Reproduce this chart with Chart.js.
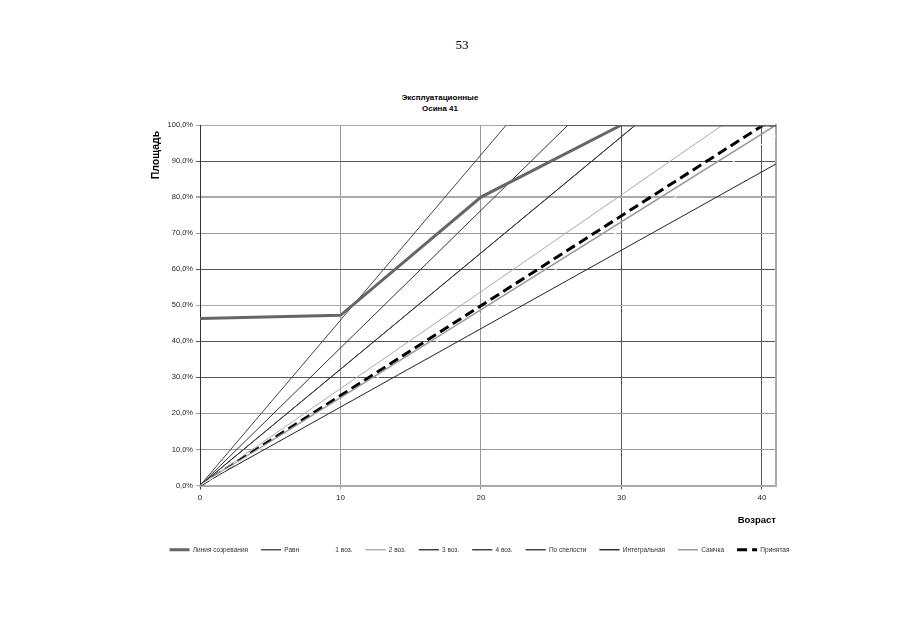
<!DOCTYPE html>
<html>
<head>
<meta charset="utf-8">
<script src="https://cdn.jsdelivr.net/npm/chart.js@4"></script>
<style>
  body { margin: 0; background: #fff; }
  #wrap { position: relative; width: 905px; height: 640px; }
  #page { position: absolute; left: 12px; top: 37px; width: 900px; text-align: center;
          font: 13px "Liberation Serif", serif; color: #000; }
  #title { position: absolute; left: 340px; top: 92px; width: 200px; text-align: center;
           font: bold 8px "Liberation Sans", Arial, sans-serif; line-height: 11px; color: #000; }
  canvas { position: absolute; left: 0; top: 0; }
</style>
</head>
<body>
<div id="wrap">
  <div id="page">53</div>
  <div id="title">Эксплуатационные<br>Осина 41</div>
  <canvas id="myChart" width="905" height="640"></canvas>
</div>
<script>
// ages (years) and area share (%)
var lastAges = [0, 10, 20, 30, 41];
var lastShare = [46.3, 47.2, 80.0, 100, 100];

var rvanAges = [0, 21.8, 41];
var rvanShare = [0, 100, 100];

var age1Ages = [0, 41];
var age1Share = [0, 97];

var age2Ages = [0, 37.2, 41];
var age2Share = [0, 100, 100];

var age3Ages = [0, 26.2, 41];
var age3Share = [0, 100, 100];

var age4Ages = [0, 31.0, 41];
var age4Share = [0, 100, 100];

var ripeAges = [0, 31.0, 41];
var ripeShare = [0, 100, 100];

var integralAges = [0, 41];
var integralShare = [0, 89.2];

var sampleAges = [0, 41];
var sampleShare = [0, 100];

var acceptedAges = [0, 40.1, 41];
var acceptedShare = [0, 100, 100];

function pts(xs, ys) {
    return xs.map(function (x, i) { return { x: x, y: ys[i] }; });
}

function line(label, xs, ys, color, width, dash) {
    return {
        label: label,
        data: pts(xs, ys),
        borderColor: color,
        backgroundColor: color,
        borderWidth: width,
        borderDash: dash || [],
        pointRadius: 0,
        tension: 0
    };
}

// grid colours vary like in the scan
var yGrid = { 0: '#aaaaaa', 10: '#999999', 20: '#999999', 30: '#555555', 40: '#555555', 50: '#aaaaaa',
              60: '#555555', 70: '#999999', 80: '#aaaaaa', 90: '#555555', 100: '#aaaaaa' };
var xGrid = { 0: '#333333', 10: '#999999', 20: '#999999', 30: '#555555', 40: '#555555' };

var ctx = document.getElementById('myChart').getContext('2d');

var myChart = new Chart(ctx, {
    type: 'line',
    data: {
        datasets: [
            line('Линия созревания', lastAges, lastShare, '#666666', 3),
            line('Равн', rvanAges, rvanShare, '#444444', 1),
            line('1 воз.', age1Ages, age1Share, '#ffffff', 1),
            line('2 воз.', age2Ages, age2Share, '#aaaaaa', 1),
            line('3 воз.', age3Ages, age3Share, '#333333', 1),
            line('4 воз.', age4Ages, age4Share, '#333333', 1),
            line('По спелости', ripeAges, ripeShare, '#333333', 1),
            line('Интегральная', integralAges, integralShare, '#222222', 1),
            line('Самчка', sampleAges, sampleShare, '#999999', 1.5),
            line('Принятая', acceptedAges, acceptedShare, '#000000', 3, [10, 5])
        ]
    },
    options: {
        responsive: false,
        animation: false,
        devicePixelRatio: 1,
        layout: { padding: { left: 150, right: 96, top: 125, bottom: 77 } },
        scales: {
            x: {
                type: 'linear',
                min: 0,
                max: 41,
                ticks: {
                    stepSize: 10,
                    includeBounds: false,
                    padding: 3,
                    autoSkip: false,
                    maxRotation: 0,
                    color: '#222',
                    font: { family: 'Liberation Sans', size: 8 }
                },
                grid: {
                    color: function (c) { return xGrid[c.tick.value] || '#999999'; },
                    tickLength: 4
                },
                border: { color: '#aaaaaa', width: 2 },
                title: {
                    display: true,
                    text: 'Возраст',
                    align: 'end',
                    color: '#000',
                    font: { family: 'Liberation Sans', size: 9.5, weight: 'bold' },
                    padding: { top: 10, bottom: 7 }
                }
            },
            y: {
                min: 0,
                max: 100,
                ticks: {
                    stepSize: 10,
                    padding: 3,
                    color: '#222',
                    font: { family: 'Liberation Sans', size: 7.5 },
                    callback: function (v) { return v.toFixed(1).replace('.', ',') + '%'; }
                },
                grid: {
                    color: function (c) { return yGrid[c.tick.value] || '#999999'; },
                    lineWidth: function (c) { return c.tick.value === 80 ? 2 : 1; },
                    tickLength: 4
                },
                border: { color: '#333333', width: 1 },
                title: {
                    display: true,
                    text: 'Площадь  ',
                    align: 'end',
                    color: '#000',
                    font: { family: 'Liberation Sans', size: 10.5, weight: 'bold' },
                    padding: { top: 0, bottom: 2 }
                }
            },
            // empty right scale: draws the light right border and keeps the plot narrower than the legend row
            yRight: {
                position: 'right',
                min: 0,
                max: 100,
                ticks: { display: false },
                grid: { drawOnChartArea: false, drawTicks: false },
                border: { display: true, color: '#aaaaaa', width: 2 },
                afterFit: function (s) { s.width = 33; }
            }
        },
        plugins: {
            legend: {
                position: 'bottom',
                labels: {
                    boxWidth: 20,
                    boxHeight: 0,
                    padding: 13,
                    color: '#333',
                    font: { family: 'Liberation Sans', size: 6.5 }
                }
            },
            tooltip: { enabled: false }
        }
    }
});
</script>
</body>
</html>
